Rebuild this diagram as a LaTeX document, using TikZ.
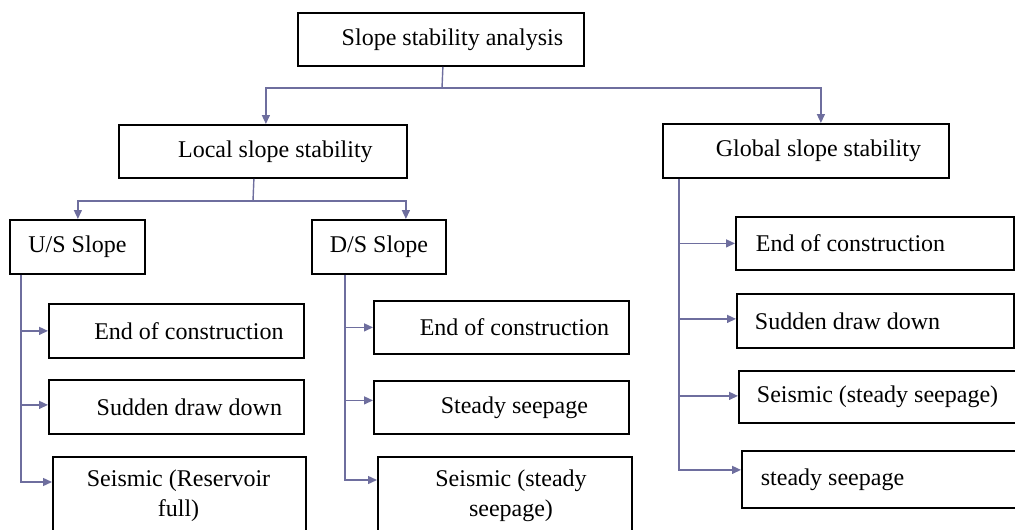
\documentclass[tikz,border=0pt]{standalone}
\usepackage{fontspec}
\setmainfont{Liberation Serif}
\usetikzlibrary{arrows.meta}
\definecolor{linkc}{HTML}{6E6E9E}
\begin{document}
\begin{tikzpicture}[x=1pt,y=-1pt,
  box/.style={draw=black,line width=1.8pt,rectangle,anchor=north west,inner sep=0pt,
    font=\fontsize{24}{29}\selectfont},
  caption/.style={font=\fontsize{24}{30}\selectfont,align=center,anchor=north,inner sep=0pt},
  link/.style={draw=linkc,line width=1.4pt},
  arr/.style={link,-{Triangle[length=9pt,width=8pt]}}]
\useasboundingbox (0,0) rectangle (1015,530);
\clip (0,0) rectangle (1015,530);

% root and first level
\node[box,minimum width=286pt,minimum height=53pt] (root) at (297,12) {\hspace*{23pt}Slope stability analysis};
\node[box,minimum width=288pt,minimum height=53pt] (local) at (118,124) {\hspace*{25pt}Local slope stability};
\node[box,minimum width=286pt,minimum height=54pt] (global) at (662,123) {\hspace*{25pt}Global slope stability};

% local slope branches
\node[box,minimum width=135pt,minimum height=54pt] (us) at (9,219) {U/S Slope};
\node[box,minimum width=134pt,minimum height=54pt] (ds) at (311,219) {D/S Slope};

% upstream cases
\node[box,minimum width=255pt,minimum height=54pt] (u1) at (48,303) {\hspace*{25pt}End of construction};
\node[box,minimum width=255pt,minimum height=54pt] (u2) at (48,379) {\hspace*{26pt}Sudden draw down};
\node[box,minimum width=253pt,minimum height=90pt] (u3) at (52,456) {};
\node[caption] (u3t) at (178.5,470) {Seismic (Reservoir\\full)};

% downstream cases
\node[box,minimum width=255pt,minimum height=53pt] (d1) at (373,300) {\hspace*{26pt}End of construction};
\node[box,minimum width=255pt,minimum height=53pt] (d2) at (373,380) {\hspace*{26pt}Steady seepage};
\node[box,minimum width=254pt,minimum height=90pt] (d3) at (377,456) {};
\node[caption] (d3t) at (511,470) {Seismic (steady\\seepage)};

% global cases, text set flush left
\node[box,minimum height=53pt] (g1) at (735,216) {\makebox[278pt][l]{\hspace*{20pt}End of construction}};
\node[box,minimum height=54pt] (g2) at (736,293) {\makebox[277pt][l]{\hspace*{18pt}Sudden draw down}};
\node[box,minimum height=52pt] (g3) at (738,370) {\makebox[277pt][l]{\hspace*{18pt}Seismic (steady seepage)}};
\node[box,minimum height=57pt] (g4) at (741,450) {\makebox[274pt][l]{\hspace*{19pt}steady seepage}};

% root to first level
\coordinate (j0) at (442,88);
\draw[link] ([xshift=2pt]root.south) -- (j0);
\draw[arr] (j0) -| ([xshift=3pt]local.north);
\draw[arr] (j0) -| ([xshift=15pt]global.north);

% local to U/S and D/S
\coordinate (j1) at (253,201);
\draw[link] ([xshift=-9pt]local.south) -- (j1);
\draw[arr] (j1) -| ([xshift=0.5pt]us.north);
\draw[arr] (j1) -| ([xshift=27pt]ds.north);

% U/S cases
\draw[arr] ([xshift=-56.5pt]us.south) |- (u1.west);
\draw[arr] ([xshift=-56.5pt]us.south) |- ([yshift=2pt]u2.west);
\draw[arr] ([xshift=-56.5pt]us.south) |- ([yshift=-26pt]u3.north west);

% D/S cases
\draw[arr] ([xshift=-34pt]ds.south) |- (d1.west);
\draw[arr] ([xshift=-34pt]ds.south) |- ([yshift=7pt]d2.west);
\draw[arr] ([xshift=-34pt]ds.south) |- ([yshift=-24pt]d3.north west);

% global cases
\draw[arr] ([xshift=-127pt]global.south) |- (g1.west);
\draw[arr] ([xshift=-127pt]global.south) |- ([yshift=2pt]g2.west);
\draw[arr] ([xshift=-127pt]global.south) |- ([yshift=1pt]g3.west);
\draw[arr] ([xshift=-127pt]global.south) |- ([yshift=9.5pt]g4.west);
\end{tikzpicture}
\end{document}
